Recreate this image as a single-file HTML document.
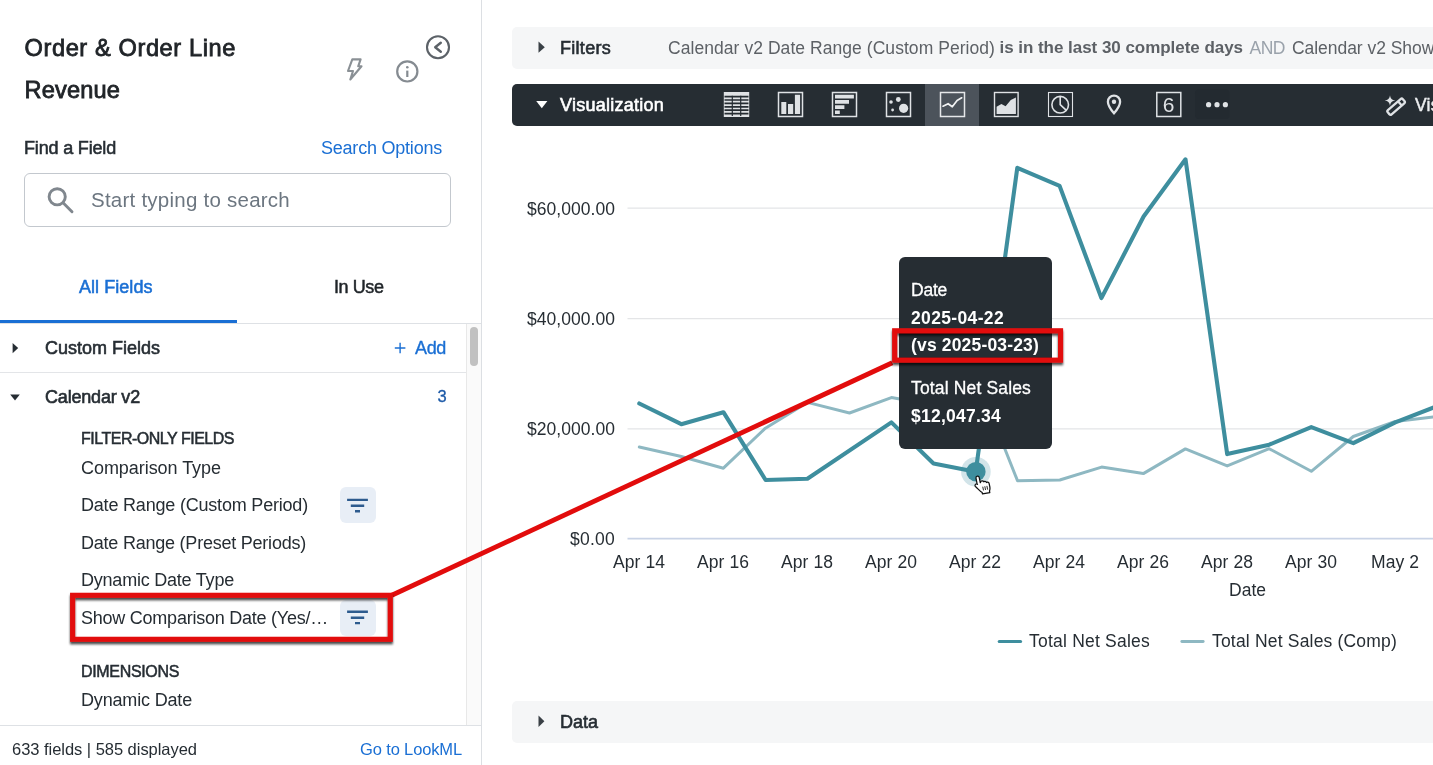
<!DOCTYPE html>
<html lang="en">
<head>
<meta charset="utf-8">
<title>Order &amp; Order Line Revenue - Explore</title>
<style>
html,body{margin:0;padding:0;}
body{width:1433px;height:765px;overflow:hidden;background:#fff;position:relative;font-family:"Liberation Sans",Arial,sans-serif;}
.t{position:absolute;white-space:nowrap;z-index:3;}
.abs{position:absolute;}
#side-border{left:480.600px;top:0;width:1.400px;height:765px;background:#dcdfe3;}
#search{left:24px;top:173px;width:425px;height:52px;border:1px solid #c3c8ce;border-radius:6px;background:#fff;}
#tabline{left:0;top:323px;width:481px;height:1px;background:#dee1e5;}
#tabactive{left:0;top:319.800px;width:237px;height:3.400px;background:#1a6fd4;}
#rowline{left:0;top:372px;width:466px;height:1px;background:#e3e5e8;}
#sb-track{left:466px;top:324px;width:15px;height:401px;background:#fafafa;border-left:1px solid #e8e8e8;box-sizing:border-box;}
#sb-thumb{left:470px;top:327px;width:8px;height:39px;border-radius:4px;background:#c1c1c1;}
#footline{left:0;top:725px;width:481px;height:1px;background:#dee1e5;}
.fbtn{width:36px;height:36px;border-radius:6px;background:#e8eef6;}
#filters{left:512px;top:27.300px;width:940px;height:41.400px;border-radius:5px;background:#f5f6f7;}
#viz{left:512px;top:84px;width:940px;height:42px;border-radius:5px;background:#262d33;}
#vizactive{left:925px;top:84px;width:54px;height:42px;background:#4c535b;}
#databar{left:512px;top:701px;width:940px;height:42px;border-radius:5px;background:#f5f6f7;}
#tooltip{left:899px;top:257px;width:153px;height:192px;border-radius:6px;background:#262d33;z-index:5;}
#svg-base{left:0;top:0;z-index:2;}
#svg-anno{left:0;top:0;z-index:7;}
#svg-cursor{left:0;top:0;z-index:8;}
</style>
</head>
<body>
<div class="abs" id="side-border"></div>
<div class="abs" id="search"></div>
<div class="abs" id="tabline"></div>
<div class="abs" id="tabactive"></div>
<div class="abs" id="rowline"></div>
<div class="abs" id="sb-track"></div>
<div class="abs" id="sb-thumb"></div>
<div class="abs" id="footline"></div>
<div class="abs fbtn" style="left:340px;top:487px;"></div>
<div class="abs fbtn" style="left:340px;top:599.8px;"></div>
<div class="abs" id="filters"></div>
<div class="abs" id="viz"></div>
<div class="abs" id="vizactive"></div>
<div class="abs" id="databar"></div>
<div class="abs" id="tooltip"></div>

<svg class="abs" id="svg-base" width="1433" height="765" viewBox="0 0 1433 765">
<!-- chart grid -->
<g fill="none" stroke-width="1.3">
<path d="M627.5 208.2H1433M627.5 318.6H1433M627.5 428.8H1433" stroke="#e4e5e7"/>
<path d="M627.5 538.600H1433" stroke="#c9d3e6" stroke-width="1.700"/>
</g>
<!-- series -->
<circle cx="975.9" cy="471.7" r="14.8" fill="#d2e4e9"/>
<g fill="none" stroke-linejoin="round" stroke-linecap="round">
<polyline stroke="#8eb8c2" stroke-width="3" points="639.3,447 681.3,456.5 723.4,468.2 765.4,428.2 807.4,402.4 849.5,413 891.4,397.6 933.5,405 975.5,375 1017.5,480.7 1059.8,480 1101.6,467.1 1143.3,473.6 1185.4,448.9 1227.2,465.9 1269.2,448.7 1311.3,471.3 1353.3,436.5 1395.3,421.5 1437.4,416.5"/>
<polyline stroke="#3e8e9e" stroke-width="4.1" points="639.3,403.5 681.3,424.2 723.4,412.2 765.6,480 807.4,478.8 891.4,422.4 933.5,463.5 975.7,471.7 1017.3,167.8 1059.6,185.9 1101.4,298.1 1143.6,216.5 1185.5,159.3 1227.2,454.1 1269.2,444.7 1311.3,427.1 1353.3,443.1 1395.3,422.4 1437.4,406"/>
</g>
<circle cx="975.9" cy="471.7" r="9.7" fill="#3e8e9e"/>
<!-- legend -->
<path d="M999.200 641.500H1020.600" stroke="#3e8e9e" stroke-width="3" stroke-linecap="round"/>
<path d="M1181.800 641.500H1203.200" stroke="#8eb8c2" stroke-width="2.800" stroke-linecap="round"/>

<!-- sidebar icons -->
<g fill="none" stroke="#8a9095" stroke-width="2.1" stroke-linejoin="round">
<path d="M352.300 59.400H360.600L358.200 66.300H361.500L350.300 79.500L353 71H348Z"/>
</g>
<g fill="none" stroke="#858b91" stroke-width="2.2">
<circle cx="407.3" cy="71.4" r="10.1"/>
<path d="M407.3 70.6V77" stroke-width="2.2"/>
</g>
<circle cx="407.3" cy="67.3" r="1.3" fill="#858b91"/>
<g fill="none" stroke="#5c6268" stroke-width="2.1">
<circle cx="438" cy="47.3" r="11"/>
<path d="M440.8 42.8L435.2 47.3L440.8 51.8" stroke-width="2.4" stroke-linecap="round" stroke-linejoin="round"/>
</g>
<g fill="none" stroke="#80878e" stroke-width="2.9">
<circle cx="57.2" cy="196.8" r="8.1"/>
<path d="M63.3 203L72 211.7" stroke-linecap="round"/>
</g>
<!-- triangles -->
<path d="M12.6 343V353.2L18.2 348.1Z" fill="#262d33"/>
<path d="M10.2 394.6H19.8L15 400.4Z" fill="#262d33"/>
<path d="M394.8 348H405.4M400.1 342.7V353.3" stroke="#1a6fd4" stroke-width="1.4" fill="none"/>
<path d="M538.5 41.6V52.8L544.8 47.2Z" fill="#3a4046"/>
<path d="M536.2 101H547.4L541.8 108.2Z" fill="#ffffff"/>
<path d="M538.5 715.4V727L544.4 721.2Z" fill="#3a4046"/>
<!-- filter icons -->
<g stroke="#2d5b8e" stroke-width="2.4" fill="none">
<path d="M347.1 499.9H367.9M350.8 505.7H364.2M355 511.2H360"/>
<path d="M347.1 611.8H367.9M350.8 617.7H364.2M355 623.1H360"/>
</g>

<!-- viz icons -->
<g id="vizicons">
<!-- table -->
<rect x="723.8" y="92" width="25.4" height="25" fill="#dfe2e5"/>
<g stroke="#262d33" stroke-width="1.5" fill="none">
<path d="M724.5 96.6H748.5M724.5 100H748.5M724.5 103.4H748.5M724.5 106.8H748.5M724.5 110.2H748.5M724.5 113.6H748.5" stroke-width="1.7"/>
<path d="M732.3 95.8V116M740.7 95.8V116" stroke-width="1.2"/>
</g>
<!-- column -->
<rect x="778.5" y="92.5" width="24" height="24" fill="none" stroke="#dfe2e5" stroke-width="1.5"/>
<path d="M781.3 102h5v12h-5zM788 104h5.2v10H788zM794.9 94.7h5.2V114h-5.2z" fill="#dfe2e5"/>
<!-- bar -->
<rect x="832.5" y="92.5" width="24" height="24" fill="none" stroke="#dfe2e5" stroke-width="1.5"/>
<path d="M835 94.7h18.9v3.7H835zM835 100.1h14v3.6H835zM835 105.3h9.4v3.6H835zM835 110.5h4.8v3.5H835z" fill="#dfe2e5"/>
<!-- scatter -->
<rect x="886.5" y="92.5" width="24" height="24" fill="none" stroke="#dfe2e5" stroke-width="1.5"/>
<g fill="#dfe2e5"><circle cx="891" cy="102" r="1.8"/><circle cx="898.3" cy="99.5" r="2.4"/><circle cx="903.6" cy="108.3" r="4.6"/><circle cx="892.6" cy="110" r="1.4"/></g>
<!-- line -->
<rect x="940.5" y="92.5" width="24" height="24" fill="none" stroke="#e6e8ea" stroke-width="1.5"/>
<polyline points="943,106.2 948.1,103.7 952.3,106.8 957.1,100.5 961.7,97.8" fill="none" stroke="#f2f3f4" stroke-width="1.7" stroke-linejoin="round" stroke-linecap="round"/>
<!-- area -->
<rect x="994.5" y="92.5" width="23.6" height="24" fill="none" stroke="#dfe2e5" stroke-width="1.4"/>
<path d="M996.6 114V106.8L1001.4 104.1L1005.6 106.2L1010.8 99.9L1015.9 97.4V114Z" fill="#dfe2e5"/>
<!-- pie -->
<rect x="1048.5" y="92.5" width="24" height="24" fill="none" stroke="#dfe2e5" stroke-width="1.1"/>
<g fill="none" stroke="#dfe2e5" stroke-width="1.6"><circle cx="1060.2" cy="104.7" r="8.3"/><path d="M1060.2 96.4V104.7L1066.6 110.6"/></g>
<!-- map pin -->
<path d="M1114 95.600c-3.400 0-6.100 2.700-6.100 6.100 0 4.500 6.100 11.600 6.100 11.600s6.100-7.100 6.100-11.600c0-3.400-2.700-6.100-6.100-6.100z" fill="none" stroke="#dfe2e5" stroke-width="2.300"/>
<circle cx="1114" cy="101.7" r="2.2" fill="#dfe2e5"/>
<!-- single value -->
<rect x="1156.8" y="92.500" width="24" height="24" fill="none" stroke="#dfe2e5" stroke-width="1.500"/>
<text x="1168.7" y="112.300" font-family="'Liberation Sans',Arial,sans-serif" font-size="21" fill="#dfe2e5" text-anchor="middle">6</text>
<!-- more -->
<rect x="1195" y="89.500" width="34.500" height="29.500" rx="4" fill="#232a30"/>
<g fill="#dfe2e5"><circle cx="1208.600" cy="104.700" r="2.600"/><circle cx="1217" cy="104.700" r="2.600"/><circle cx="1225.400" cy="104.700" r="2.600"/></g>
<!-- wand -->
<g transform="translate(1396.400 106.400) rotate(-41)" fill="none" stroke="#dfe2e5" stroke-width="2.300">
<rect x="-10.400" y="-2.800" width="20" height="5.600" rx="1.600"/>
<path d="M4.600 -2.800V2.800"/>
</g>
<path d="M1390 95.300c.6 3.400 1.900 4.700 5.300 5.300-3.400.6-4.700 1.900-5.300 5.300-.6-3.400-1.900-4.700-5.300-5.300 3.400-.6 4.700-1.900 5.300-5.300z" fill="#dfe2e5"/>
</g>

</svg>

<span class="t" style="left:24.5px;top:33.2px;font-size:23.6px;line-height:30px;-webkit-text-stroke:0.8px;color:#202428;letter-spacing:0.603px;">Order &amp; Order Line</span>
<span class="t" style="left:24.5px;top:75.2px;font-size:23.6px;line-height:30px;-webkit-text-stroke:0.8px;color:#202428;letter-spacing:0.150px;">Revenue</span>
<span class="t" style="left:24px;top:136.5px;font-size:18px;line-height:22px;-webkit-text-stroke:0.55px;color:#262d33;letter-spacing:-0.171px;">Find a Field</span>
<span class="t" style="left:321px;top:136.5px;font-size:18px;line-height:22px;color:#1a6fd4;letter-spacing:-0.220px;">Search Options</span>
<span class="t" style="left:91px;top:186.5px;font-size:20.5px;line-height:26px;color:#6c7680;letter-spacing:0.240px;">Start typing to search</span>
<span class="t" style="left:79px;top:276.0px;font-size:18px;line-height:22px;-webkit-text-stroke:0.55px;color:#1a6fd4;letter-spacing:0.047px;">All Fields</span>
<span class="t" style="left:334px;top:276.0px;font-size:18px;line-height:22px;-webkit-text-stroke:0.5px;color:#1f2428;letter-spacing:-0.422px;">In Use</span>
<span class="t" style="left:45px;top:337.0px;font-size:18px;line-height:22px;-webkit-text-stroke:0.6px;color:#262d33;letter-spacing:-0.002px;">Custom Fields</span>
<span class="t" style="left:415px;top:336.5px;font-size:18px;line-height:22px;-webkit-text-stroke:0.35px;color:#1a6fd4;letter-spacing:-0.344px;">Add</span>
<span class="t" style="left:45px;top:386.0px;font-size:18px;line-height:22px;-webkit-text-stroke:0.6px;color:#262d33;letter-spacing:-0.188px;">Calendar v2</span>
<span class="t" style="left:437.5px;top:386.3px;font-size:16.5px;line-height:21px;-webkit-text-stroke:0.3px;color:#1d5aa8;letter-spacing:-0.188px;">3</span>
<span class="t" style="left:81px;top:428.7px;font-size:16px;line-height:20px;-webkit-text-stroke:0.5px;color:#262d33;letter-spacing:-0.490px;">FILTER-ONLY FIELDS</span>
<span class="t" style="left:81px;top:457.0px;font-size:18px;line-height:22px;color:#262d33;letter-spacing:-0.050px;">Comparison Type</span>
<span class="t" style="left:81px;top:494.0px;font-size:18px;line-height:22px;color:#262d33;letter-spacing:-0.197px;">Date Range (Custom Period)</span>
<span class="t" style="left:81px;top:532.0px;font-size:18px;line-height:22px;color:#262d33;letter-spacing:-0.226px;">Date Range (Preset Periods)</span>
<span class="t" style="left:81px;top:569.0px;font-size:18px;line-height:22px;color:#262d33;letter-spacing:-0.221px;">Dynamic Date Type</span>
<span class="t" style="left:81px;top:607.0px;font-size:18px;line-height:22px;color:#262d33;letter-spacing:-0.239px;">Show Comparison Date (Yes/…</span>
<span class="t" style="left:81px;top:661.7px;font-size:16px;line-height:20px;-webkit-text-stroke:0.5px;color:#262d33;letter-spacing:-0.334px;">DIMENSIONS</span>
<span class="t" style="left:81px;top:689.0px;font-size:18px;line-height:22px;color:#262d33;letter-spacing:-0.171px;">Dynamic Date</span>
<span class="t" style="left:12px;top:739.0px;font-size:16.5px;line-height:21px;color:#262d33;letter-spacing:-0.035px;">633 fields | 585 displayed</span>
<span class="t" style="left:360px;top:739.0px;font-size:16.5px;line-height:21px;color:#1a6fd4;letter-spacing:-0.137px;">Go to LookML</span>
<span class="t" style="left:560px;top:36.5px;font-size:18px;line-height:22px;-webkit-text-stroke:0.6px;color:#262d33;letter-spacing:0.286px;">Filters</span>
<span class="t" style="left:668px;top:36.5px;font-size:17.5px;line-height:22px;color:#5d6166;letter-spacing:0.056px;">Calendar v2 Date Range (Custom Period)</span>
<span class="t" style="left:999.5px;top:37.0px;font-size:17px;line-height:21px;font-weight:bold;color:#5d6166;letter-spacing:-0.039px;">is in the last 30 complete days</span>
<span class="t" style="left:1249.5px;top:36.5px;font-size:17.5px;line-height:22px;color:#9aa2ab;letter-spacing:-0.484px;">AND</span>
<span class="t" style="left:1292px;top:36.5px;font-size:17.5px;line-height:22px;color:#5d6166;letter-spacing:-0.045px;">Calendar v2 Show Comparison</span>
<span class="t" style="left:560px;top:93.5px;font-size:18px;line-height:22px;-webkit-text-stroke:0.6px;color:#ffffff;letter-spacing:0.251px;">Visualization</span>
<span class="t" style="left:1415px;top:93.5px;font-size:17.5px;line-height:22px;-webkit-text-stroke:0.45px;color:#eceef0;letter-spacing:0.236px;">Visualization</span>
<span class="t" style="left:527px;top:197.7px;font-size:17.5px;line-height:22px;color:#262d33;letter-spacing:0.041px;">$60,000.00</span>
<span class="t" style="left:527px;top:307.5px;font-size:17.5px;line-height:22px;color:#262d33;letter-spacing:0.041px;">$40,000.00</span>
<span class="t" style="left:527px;top:418.0px;font-size:17.5px;line-height:22px;color:#262d33;letter-spacing:0.041px;">$20,000.00</span>
<span class="t" style="left:570px;top:527.5px;font-size:17.5px;line-height:22px;color:#262d33;letter-spacing:0.241px;">$0.00</span>
<span class="t" style="left:1229px;top:579.0px;font-size:17.5px;line-height:22px;color:#262d33;letter-spacing:0.008px;">Date</span>
<span class="t" style="left:1029px;top:630.0px;font-size:17.5px;line-height:22px;color:#262d33;letter-spacing:0.220px;">Total Net Sales</span>
<span class="t" style="left:1212px;top:630.0px;font-size:17.5px;line-height:22px;color:#262d33;letter-spacing:0.186px;">Total Net Sales (Comp)</span>
<span class="t" style="left:560px;top:710.5px;font-size:18px;line-height:22px;-webkit-text-stroke:0.6px;color:#262d33;letter-spacing:-0.008px;">Data</span>
<span class="t" style="left:911px;top:279.0px;font-size:17.5px;line-height:22px;-webkit-text-stroke:0.3px;color:#ffffff;letter-spacing:-0.242px;z-index:6;">Date</span>
<span class="t" style="left:911px;top:307.0px;font-size:17.5px;line-height:22px;font-weight:bold;color:#ffffff;letter-spacing:0.347px;z-index:6;">2025-04-22</span>
<span class="t" style="left:911px;top:334.0px;font-size:17.5px;line-height:22px;font-weight:bold;color:#ffffff;letter-spacing:0.167px;z-index:6;">(vs 2025-03-23)</span>
<span class="t" style="left:911px;top:377.0px;font-size:17.5px;line-height:22px;-webkit-text-stroke:0.3px;color:#ffffff;letter-spacing:0.153px;z-index:6;">Total Net Sales</span>
<span class="t" style="left:911px;top:405.0px;font-size:17.5px;line-height:22px;font-weight:bold;color:#ffffff;letter-spacing:0.241px;z-index:6;">$12,047.34</span>
<span class="t" style="left:613.0px;top:551.0px;font-size:17.5px;line-height:22px;color:#262d33;letter-spacing:0.073px;">Apr 14</span>
<span class="t" style="left:697.0px;top:551.0px;font-size:17.5px;line-height:22px;color:#262d33;letter-spacing:0.073px;">Apr 16</span>
<span class="t" style="left:781.0px;top:551.0px;font-size:17.5px;line-height:22px;color:#262d33;letter-spacing:0.073px;">Apr 18</span>
<span class="t" style="left:865.0px;top:551.0px;font-size:17.5px;line-height:22px;color:#262d33;letter-spacing:0.073px;">Apr 20</span>
<span class="t" style="left:949.0px;top:551.0px;font-size:17.5px;line-height:22px;color:#262d33;letter-spacing:0.073px;">Apr 22</span>
<span class="t" style="left:1033.0px;top:551.0px;font-size:17.5px;line-height:22px;color:#262d33;letter-spacing:0.073px;">Apr 24</span>
<span class="t" style="left:1117.0px;top:551.0px;font-size:17.5px;line-height:22px;color:#262d33;letter-spacing:0.073px;">Apr 26</span>
<span class="t" style="left:1201.0px;top:551.0px;font-size:17.5px;line-height:22px;color:#262d33;letter-spacing:0.073px;">Apr 28</span>
<span class="t" style="left:1285.0px;top:551.0px;font-size:17.5px;line-height:22px;color:#262d33;letter-spacing:0.073px;">Apr 30</span>
<span class="t" style="left:1371.0px;top:551.0px;font-size:17.5px;line-height:22px;color:#262d33;letter-spacing:0.069px;">May 2</span>

<svg class="abs" id="svg-anno" width="1433" height="765" viewBox="0 0 1433 765">
<defs><filter id="sh" x="-5%" y="-20%" width="110%" height="150%"><feDropShadow dx="0" dy="2.400" stdDeviation="1.300" flood-color="#000" flood-opacity="0.720"/></filter></defs>
<path d="M391.800 595.300L892.300 362.700" fill="none" stroke="#e20c0c" stroke-width="4.800"/>
<g fill="none" stroke="#e20c0c" stroke-width="5.100" filter="url(#sh)">
<rect x="72.600" y="595.300" width="317.700" height="44"/>
<rect x="894.650" y="330.750" width="165.900" height="29.400"/>
</g>

</svg>
<svg class="abs" id="svg-cursor" width="1433" height="765" viewBox="0 0 1433 765">
<g transform="translate(977.300,476.200) rotate(-11) scale(0.840) translate(-7.500,-1.500)">
<path d="M7.500 1.500c1.100 0 2 .9 2 2v6.200l.3-.05c.2-1 1-1.700 2-1.700 1 0 1.800.7 2 1.600.3-.2.700-.3 1.100-.3 1 0 1.800.7 2 1.700.2-.1.500-.2.800-.2 1.100 0 2 .9 2 2v4.500c0 2-.6 3.300-1.300 4.400v1.800H9.500v-1.700c-1.300-1.200-2.700-3-4.200-5.300-.9-1.400-1.700-2.500-2.300-3.300-.6-.9-.3-2 .5-2.500.8-.5 1.800-.3 2.400.4l-.4-.6V3.500c0-1.100.9-2 2-2z" fill="#fff" stroke="#111" stroke-width="1.500" stroke-linejoin="round"/>
<path d="M11.500 15v4.500M14 15v4.500M16.500 15v4.500" stroke="#111" stroke-width="1" fill="none"/>
</g>

</svg>
</body>
</html>
